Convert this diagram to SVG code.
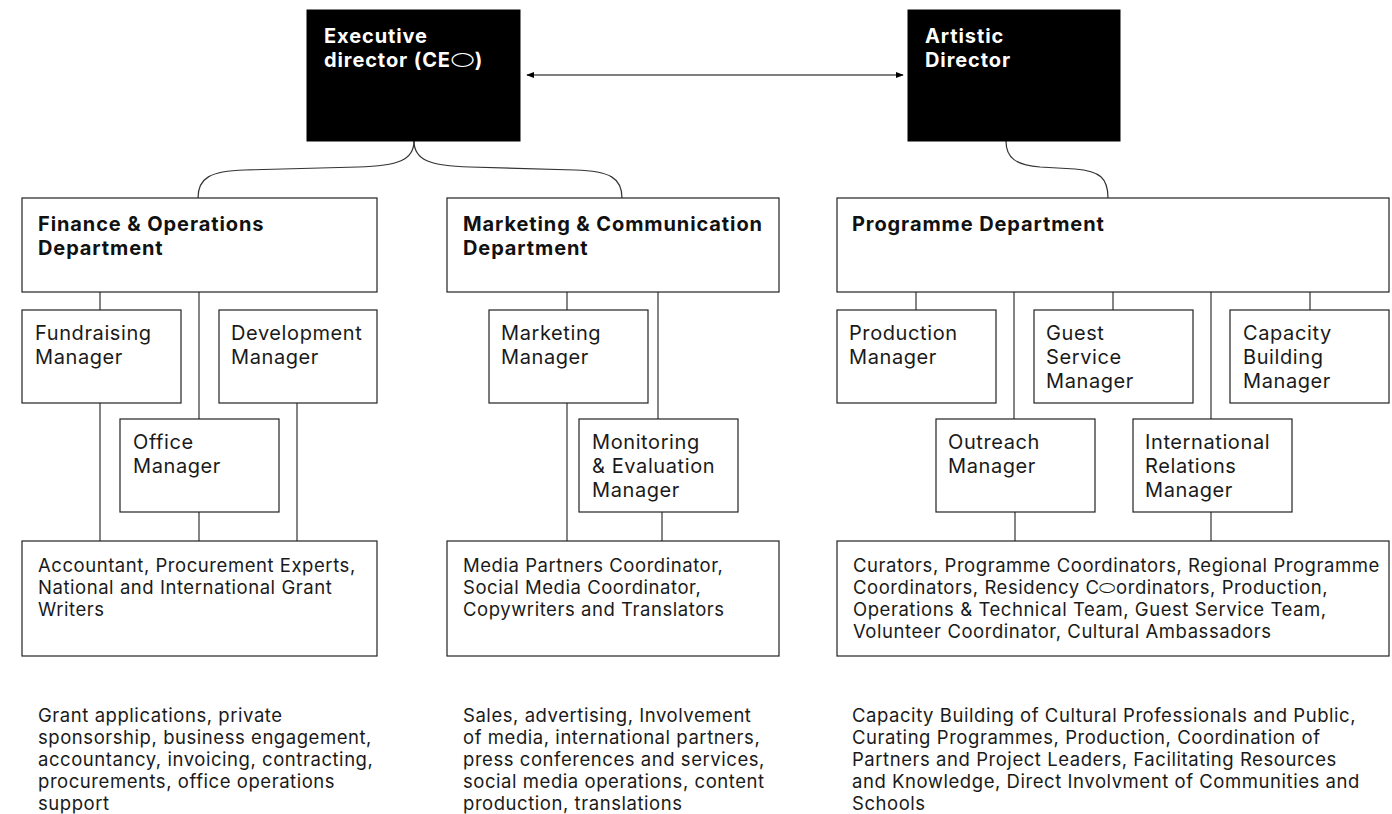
<svg xmlns="http://www.w3.org/2000/svg" width="1392" height="814" viewBox="0 0 1392 814">
<style>
.box{fill:#fff;stroke:#222;stroke-width:1.2}
.dark{fill:#000;stroke:#000}
.t{font-family:Inter,"Liberation Sans",sans-serif;font-size:20px;letter-spacing:0.6px;fill:#1a1a1a}
.b{font-family:Inter,"Liberation Sans",sans-serif;font-size:20px;letter-spacing:0.9px;font-weight:700;fill:#111}
.w{font-family:Inter,"Liberation Sans",sans-serif;font-size:20px;letter-spacing:0.9px;font-weight:700;fill:#fff}
.s{font-family:Inter,"Liberation Sans",sans-serif;font-size:18.5px;letter-spacing:0.55px;fill:#1a1a1a}
.c{fill:none;stroke:#333;stroke-width:1.2}
</style>
<defs>
<marker id="ah" viewBox="0 0 10 10" refX="9" refY="5" markerWidth="8" markerHeight="8" orient="auto-start-reverse" markerUnits="userSpaceOnUse">
<path d="M0,1 L10,5 L0,9 z" fill="#000"/>
</marker>
</defs>

<g id="connectors">
<line class="c" x1="527" y1="75" x2="903" y2="75" marker-start="url(#ah)" marker-end="url(#ah)" style="stroke:#000"/>
<path class="c" d="M414,141 C414,160 398,166 358,167 L245,170 C210,171 198,178 198,198"/>
<path class="c" d="M414,141 C414,160 430,166 470,167 L575,170 C610,171 622,178 622,198"/>
<path class="c" d="M1006,141 C1006,158 1016,165 1040,167 L1075,169 C1100,171 1108,178 1108,198"/>
<line class="c" x1="100" y1="292" x2="100" y2="310"/>
<line class="c" x1="199" y1="292" x2="199" y2="419"/>
<line class="c" x1="100" y1="403" x2="100" y2="541"/>
<line class="c" x1="199" y1="512" x2="199" y2="541"/>
<line class="c" x1="297" y1="403" x2="297" y2="541"/>
<line class="c" x1="567" y1="292" x2="567" y2="310"/>
<line class="c" x1="658" y1="292" x2="658" y2="419"/>
<line class="c" x1="567" y1="403" x2="567" y2="541"/>
<line class="c" x1="662" y1="512" x2="662" y2="541"/>
<line class="c" x1="916" y1="292" x2="916" y2="310"/>
<line class="c" x1="1014" y1="292" x2="1014" y2="419"/>
<line class="c" x1="1113" y1="292" x2="1113" y2="310"/>
<line class="c" x1="1211" y1="292" x2="1211" y2="419"/>
<line class="c" x1="1310" y1="292" x2="1310" y2="310"/>
<line class="c" x1="1015" y1="512" x2="1015" y2="541"/>
<line class="c" x1="1211" y1="512" x2="1211" y2="541"/>
</g>

<g id="exec">
<rect class="dark" x="307" y="10" width="213" height="131"/>
<text class="w" x="324" y="43">Executive</text>
<text class="w" x="324" y="67">director (CE<tspan font-size="27px" font-weight="400" dy="2">⬭</tspan><tspan dy="-2">)</tspan></text>
</g>
<g id="artistic">
<rect class="dark" x="908" y="10" width="212" height="131"/>
<text class="w" x="925" y="43">Artistic</text>
<text class="w" x="925" y="67">Director</text>
</g>

<g id="finance">
<rect class="box" x="22" y="198" width="355" height="94"/>
<text class="b" x="38" y="231">Finance &amp; Operations</text>
<text class="b" x="38" y="255">Department</text>
</g>
<g id="marketing">
<rect class="box" x="447" y="198" width="332" height="94"/>
<text class="b" x="463" y="231">Marketing &amp; Communication</text>
<text class="b" x="463" y="255">Department</text>
</g>
<g id="programme">
<rect class="box" x="837" y="198" width="552" height="94"/>
<text class="b" x="852" y="231">Programme Department</text>
</g>

<g id="fundraising">
<rect class="box" x="22" y="310" width="159" height="93"/>
<text class="t" x="35" y="340">Fundraising</text>
<text class="t" x="35" y="364">Manager</text>
</g>
<g id="development">
<rect class="box" x="219" y="310" width="158" height="93"/>
<text class="t" x="231" y="340">Development</text>
<text class="t" x="231" y="364">Manager</text>
</g>
<g id="office">
<rect class="box" x="120" y="419" width="159" height="93"/>
<text class="t" x="133" y="449">Office</text>
<text class="t" x="133" y="473">Manager</text>
</g>
<g id="marketing-manager">
<rect class="box" x="489" y="310" width="159" height="93"/>
<text class="t" x="501" y="340">Marketing</text>
<text class="t" x="501" y="364">Manager</text>
</g>
<g id="monitoring">
<rect class="box" x="579" y="419" width="159" height="93"/>
<text class="t" x="592" y="449">Monitoring</text>
<text class="t" x="592" y="473">&amp; Evaluation</text>
<text class="t" x="592" y="497">Manager</text>
</g>
<g id="production">
<rect class="box" x="837" y="310" width="159" height="93"/>
<text class="t" x="849" y="340">Production</text>
<text class="t" x="849" y="364">Manager</text>
</g>
<g id="guest">
<rect class="box" x="1034" y="310" width="159" height="93"/>
<text class="t" x="1046" y="340">Guest</text>
<text class="t" x="1046" y="364">Service</text>
<text class="t" x="1046" y="388">Manager</text>
</g>
<g id="capacity">
<rect class="box" x="1230" y="310" width="159" height="93"/>
<text class="t" x="1243" y="340">Capacity</text>
<text class="t" x="1243" y="364">Building</text>
<text class="t" x="1243" y="388">Manager</text>
</g>
<g id="outreach">
<rect class="box" x="936" y="419" width="159" height="93"/>
<text class="t" x="948" y="449">Outreach</text>
<text class="t" x="948" y="473">Manager</text>
</g>
<g id="international">
<rect class="box" x="1133" y="419" width="159" height="93"/>
<text class="t" x="1145" y="449">International</text>
<text class="t" x="1145" y="473">Relations</text>
<text class="t" x="1145" y="497">Manager</text>
</g>

<g id="finance-staff">
<rect class="box" x="22" y="541" width="355" height="115"/>
<text class="s" x="38" y="572">Accountant, Procurement Experts,</text>
<text class="s" x="38" y="594">National and International Grant</text>
<text class="s" x="38" y="616">Writers</text>
</g>
<g id="marketing-staff">
<rect class="box" x="447" y="541" width="332" height="115"/>
<text class="s" x="463" y="572">Media Partners Coordinator,</text>
<text class="s" x="463" y="594">Social Media Coordinator,</text>
<text class="s" x="463" y="616">Copywriters and Translators</text>
</g>
<g id="programme-staff">
<rect class="box" x="837" y="541" width="552" height="115"/>
<text class="s" x="853" y="572">Curators, Programme Coordinators, Regional Programme</text>
<text class="s" x="853" y="594">Coordinators, Residency C⬭ordinators, Production,</text>
<text class="s" x="853" y="616">Operations &amp; Technical Team, Guest Service Team,</text>
<text class="s" x="853" y="638">Volunteer Coordinator, Cultural Ambassadors</text>
</g>

<g id="descriptions">
<text class="s" x="38" y="722">Grant applications, private</text>
<text class="s" x="38" y="744">sponsorship, business engagement,</text>
<text class="s" x="38" y="766">accountancy, invoicing, contracting,</text>
<text class="s" x="38" y="788">procurements, office operations</text>
<text class="s" x="38" y="810">support</text>
<text class="s" x="463" y="722">Sales, advertising, Involvement</text>
<text class="s" x="463" y="744">of media, international partners,</text>
<text class="s" x="463" y="766">press conferences and services,</text>
<text class="s" x="463" y="788">social media operations, content</text>
<text class="s" x="463" y="810">production, translations</text>
<text class="s" x="852" y="722">Capacity Building of Cultural Professionals and Public,</text>
<text class="s" x="852" y="744">Curating Programmes, Production, Coordination of</text>
<text class="s" x="852" y="766">Partners and Project Leaders, Facilitating Resources</text>
<text class="s" x="852" y="788">and Knowledge, Direct Involvment of Communities and</text>
<text class="s" x="852" y="810">Schools</text>
</g>
</svg>
